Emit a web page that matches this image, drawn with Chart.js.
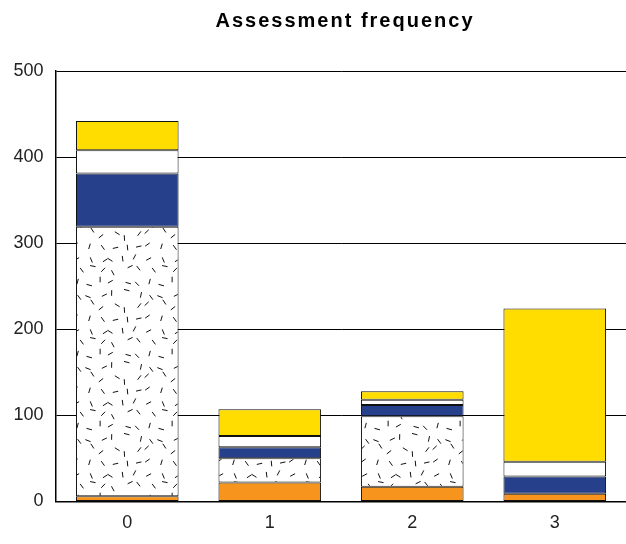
<html>
<head>
  <meta charset="utf-8">
  <title>Assessment frequency</title>
  <script src="https://cdn.jsdelivr.net/npm/chart.js@4.4.1/dist/chart.umd.min.js"></script>
  <style>
    body { margin: 0; background: #fff; }
  </style>
</head>
<body>

<canvas id="myChart" width="626" height="544"></canvas>

<script>

const categories = ["0", "1", "2", "3"];
const orangeVals = [6, 22, 17, 9];
const dottedVals = [313, 28, 82, 0];
const blueVals = [62, 13, 13, 20];
const whiteVals = [27, 13, 6, 17];
const yellowVals = [34, 31, 10, 178];

const FONT = 'Liberation Sans, Arial, sans-serif';

// speckle texture for the second segment (deterministic jittered grid of dashes)
function makeSpeckle() {
  const size = 72, cell = 12;
  const c = document.createElement('canvas');
  c.width = size; c.height = size;
  const g = c.getContext('2d');
  g.fillStyle = '#fff';
  g.fillRect(0, 0, size, size);
  g.strokeStyle = '#111';
  g.lineWidth = 1;
  let s = 11;
  const rnd = () => { s = (s * 9301 + 49297) % 233280; return s / 233280; };
  for (let i = 0; i < 6; i++) {
    for (let j = 0; j < 6; j++) {
      const x = (i + 0.15 + rnd() * 0.7) * cell;
      const y = (j + 0.15 + rnd() * 0.7) * cell;
      const a = rnd() * Math.PI;
      const dx = Math.cos(a) * 2.8, dy = Math.sin(a) * 2.8;
      g.beginPath();
      g.moveTo(x - dx, y - dy);
      g.lineTo(x + dx, y + dy);
      g.stroke();
    }
  }
  return g.createPattern(c, 'repeat');
}

// title drawn by hand so it can be centred on the plot area with a little tracking
const titlePlugin = {
  id: 'plotTitle',
  afterDraw(chart) {
    const ctx = chart.ctx;
    const area = chart.chartArea;
    ctx.save();
    ctx.font = 'bold 20px ' + FONT;
    ctx.fillStyle = '#000';
    ctx.textAlign = 'center';
    ctx.textBaseline = 'alphabetic';
    if ('letterSpacing' in ctx) ctx.letterSpacing = '2px';
    ctx.fillText('Assessment frequency', (area.left + area.right) / 2 + 4, 27);
    ctx.restore();
  }
};

const edge = '#111';

const data = {
  labels: categories,
  datasets: [
    { data: orangeVals, backgroundColor: 'rgb(247,148,30)' },
    { data: dottedVals, backgroundColor: makeSpeckle() },
    { data: blueVals, backgroundColor: 'rgb(38,64,140)' },
    { data: whiteVals, backgroundColor: '#ffffff' },
    { data: yellowVals, backgroundColor: 'rgb(255,221,0)' }
  ].map(d => Object.assign(d, {
    borderColor: edge,
    borderWidth: 1,
    borderSkipped: false,
    barPercentage: 0.72,
    categoryPercentage: 1
  }))
};

const config = {
  type: 'bar',
  data,
  plugins: [titlePlugin],
  options: {
    responsive: false,
    animation: false,
    layout: { padding: { left: 1, right: -1, top: 71, bottom: -1 } },
    plugins: {
      legend: { display: false },
      tooltip: { enabled: false },
      title: { display: false }
    },
    scales: {
      x: {
        stacked: true,
        grid: { display: false, drawTicks: false },
        border: { display: true, color: '#000', width: 1.5 },
        ticks: {
          color: '#222',
          padding: 11,
          font: { family: FONT, size: 18 }
        }
      },
      y: {
        stacked: true,
        min: 0,
        max: 500,
        grid: { color: '#000', lineWidth: 1, drawTicks: false },
        border: { display: true, color: '#000', width: 1.5 },
        ticks: {
          stepSize: 100,
          color: '#222',
          padding: 12.5,
          font: { family: FONT, size: 18 }
        }
      }
    }
  }
};

var myChart = new Chart(document.getElementById('myChart'), config);

</script>

</body>
</html>
